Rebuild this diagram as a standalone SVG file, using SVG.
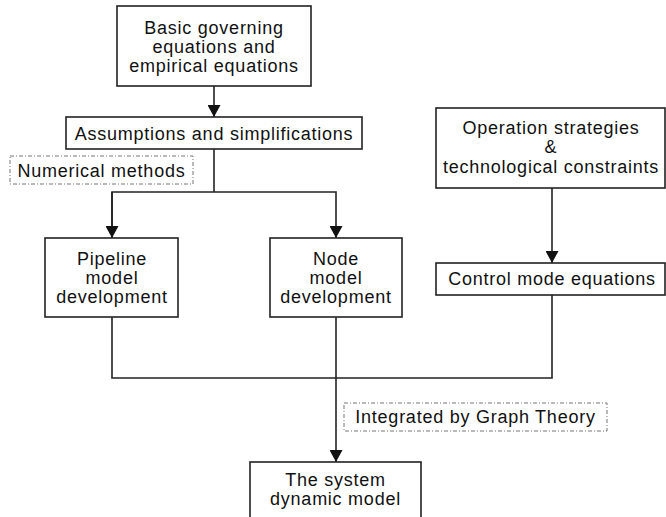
<svg xmlns="http://www.w3.org/2000/svg" width="666" height="517" viewBox="0 0 666 517">
  <style>
    .box { fill: #fff; stroke: #222; stroke-width: 1.6; }
    .note { fill: #fff; stroke: #777; stroke-width: 1; stroke-dasharray: 4 2 1 2; }
    .wire { fill: none; stroke: #222; stroke-width: 1.6; }
    text { font-family: "Liberation Sans", Arial, sans-serif; font-size: 18px; letter-spacing: 0.75px; fill: #111; text-anchor: middle; }
  </style>
  <defs>
    <marker id="arrow" viewBox="0 0 12 13" refX="12" refY="6.5" markerWidth="12" markerHeight="13" markerUnits="userSpaceOnUse" orient="auto">
      <path d="M0,0 L12,6.5 L0,13 Z" fill="#111"/>
    </marker>
  </defs>
  <rect width="666" height="517" fill="#fff"/>

  <g id="connectors">
    <line class="wire" x1="214" y1="86" x2="214" y2="117" marker-end="url(#arrow)"/>
    <polyline class="wire" points="214,149 214,192"/>
    <polyline class="wire" points="112,238 112,192 336,192 336,238" marker-end="url(#arrow)"/>
    <line class="wire" x1="112" y1="192" x2="112" y2="238" marker-end="url(#arrow)"/>
    <line class="wire" x1="552" y1="188" x2="552" y2="263" marker-end="url(#arrow)"/>
    <polyline class="wire" points="112,317 112,378 552,378 552,295"/>
    <line class="wire" x1="336" y1="317" x2="336" y2="462" marker-end="url(#arrow)"/>
  </g>

  <g id="basic-equations">
    <rect class="box" x="117" y="6" width="194" height="80"/>
    <text x="214" y="34">Basic governing</text>
    <text x="214" y="53">equations and</text>
    <text x="214" y="72">empirical equations</text>
  </g>

  <g id="assumptions">
    <rect class="box" x="66" y="117" width="296" height="32"/>
    <text x="214" y="140">Assumptions and simplifications</text>
  </g>

  <g id="numerical-methods">
    <rect class="note" x="10" y="156" width="183" height="28"/>
    <text x="101.5" y="177">Numerical methods</text>
  </g>

  <g id="pipeline-model">
    <rect class="box" x="45" y="238" width="133" height="79"/>
    <text x="112" y="265">Pipeline</text>
    <text x="112" y="284">model</text>
    <text x="112" y="303">development</text>
  </g>

  <g id="node-model">
    <rect class="box" x="270" y="238" width="132" height="79"/>
    <text x="336" y="265">Node</text>
    <text x="336" y="284">model</text>
    <text x="336" y="303">development</text>
  </g>

  <g id="operation-strategies">
    <rect class="box" x="436" y="108" width="229" height="80"/>
    <text x="551" y="134">Operation strategies</text>
    <text x="551" y="153">&amp;</text>
    <text x="551" y="173">technological constraints</text>
  </g>

  <g id="control-mode">
    <rect class="box" x="436" y="263" width="229" height="32"/>
    <text x="552" y="285">Control mode equations</text>
  </g>

  <g id="graph-theory">
    <rect class="note" x="344" y="403" width="263" height="28"/>
    <text x="475.5" y="423">Integrated by Graph Theory</text>
  </g>

  <g id="system-model">
    <rect class="box" x="250" y="462" width="171" height="60"/>
    <text x="335.5" y="486">The system</text>
    <text x="335.5" y="505">dynamic model</text>
  </g>
</svg>
